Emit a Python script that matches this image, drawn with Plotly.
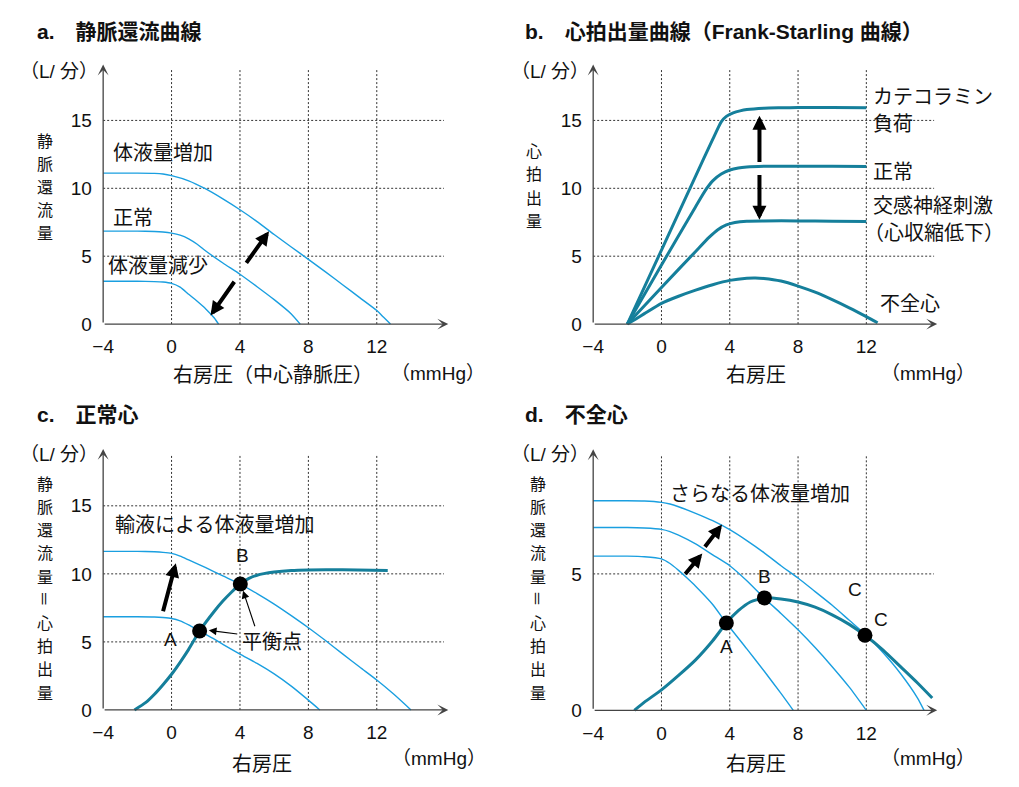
import plotly.graph_objects as go

W, H = 1019, 787
FONT_JP = "Noto Sans CJK JP, sans-serif"
FONT_MIX = "Liberation Sans, Noto Sans CJK JP, sans-serif"
VR_COLOR = "#1a9fe0"
CO_COLOR = "#157f9b"
AX_COLOR = "#444444"

# ---------------- data ----------------
x_tick_vals = [-4, 0, 4, 8, 12]
x_tick_text = ["−4", "0", "4", "8", "12"]
y_tick_vals_abc = [0, 5, 10, 15]
y_tick_vals_d = [0, 5]
grid_x = [0, 4, 8, 12]
grid_y_abc = [5, 10, 15]
grid_y_d = [5]

# a. venous return curves
a_inc_x = [-4, -2, -1, -0.5, 0, 1, 2, 3, 4, 5, 6, 7, 8, 9, 10, 11, 12, 12.4, 12.8]
a_inc_y = [11.12, 11.12, 11.1, 11.05, 10.93, 10.55, 9.95, 9.22, 8.42, 7.55, 6.6, 5.68, 4.77, 3.85, 2.9, 1.95, 1.0, 0.5, 0.0]
a_norm_x = [-4, -2, -1, -0.5, 0, 0.5, 1, 1.5, 2, 3, 4, 5, 6, 7, 7.52]
a_norm_y = [6.85, 6.85, 6.82, 6.78, 6.7, 6.55, 6.28, 5.88, 5.38, 4.5, 3.67, 2.75, 1.8, 0.75, 0.0]
a_dec_x = [-4, -2, -1, -0.5, 0, 0.5, 1, 1.5, 2, 2.5, 2.75]
a_dec_y = [3.15, 3.15, 3.13, 3.1, 3.0, 2.72, 2.2, 1.68, 1.12, 0.45, 0.0]

# b. cardiac output curves
b_cat_x = [-2, 0, 2, 3, 3.5, 3.8, 4.2, 4.6, 5, 6, 7, 8, 10, 12]
b_cat_y = [0, 5.45, 10.9, 13.6, 14.9, 15.3, 15.55, 15.7, 15.8, 15.9, 15.93, 15.95, 15.95, 15.93]
b_norm_x = [-2, 0, 2, 2.6, 3.0, 3.5, 4, 4.5, 5, 6, 7, 8, 10, 12]
b_norm_y = [0, 4.35, 8.65, 9.9, 10.55, 11.05, 11.35, 11.5, 11.57, 11.62, 11.63, 11.63, 11.62, 11.6]
b_sym_x = [-2, 0, 2, 2.8, 3.3, 3.8, 4.3, 5, 6, 8, 10, 12]
b_sym_y = [0, 2.7, 5.35, 6.4, 6.95, 7.3, 7.48, 7.58, 7.6, 7.6, 7.58, 7.55]
b_fail_x = [-2, -1.5, -1, 0, 1, 2, 3, 4, 5, 5.5, 6, 7, 8, 9, 10, 11, 12, 12.66]
b_fail_y = [0, 0.38, 0.77, 1.53, 2.05, 2.5, 2.9, 3.22, 3.38, 3.4, 3.36, 3.17, 2.8, 2.35, 1.8, 1.2, 0.55, 0.1]

# c. normal heart
c_co_x = [-2.17, -1.5, -1, -0.5, 0, 0.5, 1, 1.64, 2.5, 3, 3.5, 4.02, 4.5, 5, 6, 7, 8, 10, 12.64]
c_co_y = [0, 0.55, 1.15, 1.85, 2.62, 3.5, 4.45, 5.8, 7.25, 8.0, 8.65, 9.25, 9.65, 9.9, 10.13, 10.25, 10.29, 10.3, 10.25]
c_vr1_x = [-4, -2, -1, -0.5, 0, 0.5, 1, 1.64, 2.5, 3, 4, 5, 6, 7, 8, 8.67]
c_vr1_y = [6.85, 6.85, 6.83, 6.79, 6.72, 6.55, 6.25, 5.8, 5.2, 4.82, 4.1, 3.42, 2.65, 1.75, 0.72, 0.0]
c_vr2_x = [-4, -2, -1, -0.5, 0, 0.5, 1, 2, 3, 4.02, 5, 6, 7, 8, 9, 10, 11, 12, 13, 14]
c_vr2_y = [11.65, 11.65, 11.62, 11.58, 11.5, 11.3, 11.02, 10.45, 9.85, 9.25, 8.55, 7.78, 6.93, 6.04, 5.1, 4.12, 3.15, 2.2, 1.15, 0.0]
c_eq_x = [1.64, 4.02]
c_eq_y = [5.8, 9.25]

# d. failing heart
d_co_x = [-1.59, -1, 0, 1, 2, 3, 3.8, 4.5, 5.2, 6.03, 7, 8, 9, 10, 11, 11.92, 13, 14, 15, 15.86]
d_co_y = [0, 0.3, 0.75, 1.28, 1.85, 2.55, 3.2, 3.65, 3.97, 4.12, 4.08, 3.97, 3.78, 3.5, 3.15, 2.75, 2.2, 1.6, 1.0, 0.45]
d_vr1_x = [-4, -2, -1, 0, 0.5, 1, 1.5, 2, 3, 3.8, 5, 6, 7, 7.72]
d_vr1_y = [5.65, 5.65, 5.63, 5.55, 5.38, 5.13, 4.85, 4.55, 3.88, 3.2, 2.25, 1.45, 0.62, 0.0]
d_vr2_x = [-4, -2, -1, 0, 0.5, 1, 2, 3, 4, 5, 6.03, 7, 8, 9, 10, 11, 12]
d_vr2_y = [6.7, 6.7, 6.68, 6.63, 6.55, 6.42, 6.1, 5.7, 5.3, 4.75, 4.11, 3.55, 2.95, 2.3, 1.6, 0.85, 0.0]
d_vr3_x = [-4, -2, -1, 0, 0.5, 1, 2, 3, 4, 5, 6, 7, 8, 9, 10, 11, 12, 13, 14, 15, 15.38]
d_vr3_y = [7.68, 7.68, 7.67, 7.62, 7.56, 7.46, 7.22, 6.95, 6.62, 6.22, 5.78, 5.3, 4.85, 4.35, 3.85, 3.3, 2.75, 2.1, 1.35, 0.45, 0.0]
d_eq_x = [3.8, 6.03, 11.92]
d_eq_y = [3.2, 4.12, 2.75]

# ---------------- layout geometry (pixel mapping) ----------------
panels = {
    "a": dict(xa="x", ya="y", x0=165.7, sx=17.22, y0=327.0, sy=13.7,
              xr=[-4.25, 16.5], yr=[-0.25, 19.6], yt=y_tick_vals_abc, gy=grid_y_abc,
              ytop=19.12, gtop=18.71, gright=15.93, xend=16.18),
    "b": dict(xa="x2", ya="y2", x0=659.0, sx=17.19, y0=327.0, sy=13.7,
              xr=[-4.25, 16.5], yr=[-0.25, 19.6], yt=y_tick_vals_abc, gy=grid_y_abc,
              ytop=19.12, gtop=18.71, gright=15.97, xend=16.15),
    "c": dict(xa="x3", ya="y3", x0=165.7, sx=17.22, y0=716.3, sy=13.73,
              xr=[-4.25, 16.5], yr=[-0.25, 19.6], yt=y_tick_vals_abc, gy=grid_y_abc,
              ytop=19.18, gtop=18.7, gright=15.93, xend=16.18),
    "d": dict(xa="x4", ya="y4", x0=659.0, sx=17.19, y0=716.7, sy=27.53,
              xr=[-4.25, 16.5], yr=[-0.13, 9.8], yt=y_tick_vals_d, gy=grid_y_d,
              ytop=9.57, gtop=9.32, gright=15.96, xend=16.15),
}

fig = go.Figure()
layout = dict(width=W, height=H, margin=dict(l=0, r=0, t=0, b=0),
              paper_bgcolor="white", plot_bgcolor="rgba(0,0,0,0)",
              showlegend=False, font=dict(family=FONT_MIX, size=19, color="#111"))
shapes = []
annotations = []

for i, (key, p) in enumerate(panels.items()):
    n = "" if i == 0 else str(i + 1)
    xd = [(p["x0"] + p["sx"] * p["xr"][0]) / W, (p["x0"] + p["sx"] * p["xr"][1]) / W]
    yd = [1 - (p["y0"] - p["sy"] * p["yr"][0]) / H, 1 - (p["y0"] - p["sy"] * p["yr"][1]) / H]
    layout["xaxis" + n] = dict(domain=xd, range=p["xr"], anchor=p["ya"], tickvals=x_tick_vals,
                               ticktext=x_tick_text, showgrid=False, zeroline=False, showline=False,
                               ticks="", ticklabelstandoff=6, fixedrange=True,
                               tickfont=dict(family=FONT_MIX, size=19, color="#111"))
    layout["yaxis" + n] = dict(domain=yd, range=p["yr"], anchor=p["xa"], tickvals=p["yt"],
                               showgrid=False, zeroline=False, showline=False, ticks="",
                               ticklabelstandoff=6, fixedrange=True,
                               tickfont=dict(family=FONT_MIX, size=19, color="#111"))
    # dotted grid
    for gx in grid_x:
        shapes.append(dict(type="line", xref=p["xa"], yref=p["ya"], x0=gx, x1=gx, y0=0, y1=p["gtop"],
                           line=dict(color="#333", width=1, dash="2px,2px"), layer="below"))
    for gy in p["gy"]:
        shapes.append(dict(type="line", xref=p["xa"], yref=p["ya"], x0=-4, x1=p["gright"], y0=gy, y1=gy,
                           line=dict(color="#333", width=1, dash="2px,2px"), layer="below"))
    # axes with arrowheads
    annotations.append(dict(xref=p["xa"], yref=p["ya"], axref=p["xa"], ayref=p["ya"],
                            x=p["xend"], y=0, ax=-4, ay=0, text="", showarrow=True,
                            arrowhead=3, arrowsize=1.4, arrowwidth=1.3, arrowcolor=AX_COLOR))
    annotations.append(dict(xref=p["xa"], yref=p["ya"], axref=p["xa"], ayref=p["ya"],
                            x=-4, y=p["ytop"], ax=-4, ay=0, text="", showarrow=True,
                            arrowhead=3, arrowsize=1.4, arrowwidth=1.3, arrowcolor=AX_COLOR))


def line(x, y, xa, ya, color, width):
    fig.add_trace(go.Scatter(x=x, y=y, mode="lines", xaxis=xa, yaxis=ya, hoverinfo="skip",
                             line=dict(color=color, width=width, shape="spline", smoothing=0.6)))


def dots(x, y, xa, ya):
    fig.add_trace(go.Scatter(x=x, y=y, mode="markers", xaxis=xa, yaxis=ya, hoverinfo="skip",
                             marker=dict(color="black", size=15)))


def arrow(xa, ya, tail, head, width=4, size=0.7, head_style=2):
    annotations.append(dict(xref=xa, yref=ya, axref=xa, ayref=ya, x=head[0], y=head[1],
                            ax=tail[0], ay=tail[1], text="", showarrow=True, arrowhead=head_style,
                            arrowsize=size, arrowwidth=width, arrowcolor="black"))


def txt(xa, ya, x, y, s, anchor="left", size=20, family=FONT_JP):
    annotations.append(dict(xref=xa, yref=ya, x=x, y=y, text=s, showarrow=False, xanchor=anchor,
                            yanchor="middle", font=dict(family=family, size=size, color="#111")))


def ptxt(px, py, s, anchor="left", size=20, family=FONT_JP, bold=False, pad=1, angle=0):
    if bold:
        s = "<b>" + s + "</b>"
    annotations.append(dict(xref="paper", yref="paper", x=px / W, y=1 - py / H, text=s, showarrow=False,
                            xanchor=anchor, yanchor="middle", borderpad=pad, textangle=angle,
                            font=dict(family=family, size=size, color="#111")))


# ---- panel a ----
line(a_inc_x, a_inc_y, "x", "y", VR_COLOR, 1.4)
line(a_norm_x, a_norm_y, "x", "y", VR_COLOR, 1.4)
line(a_dec_x, a_dec_y, "x", "y", VR_COLOR, 1.4)
arrow("x", "y", (4.31, 4.40), (5.7, 6.84))
arrow("x", "y", (3.73, 3.23), (2.28, 0.63))
txt("x", "y", -3.55, 12.68, "体液量増加")
txt("x", "y", -3.55, 7.93, "正常")
txt("x", "y", -3.85, 4.40, "体液量減少")

# ---- panel b ----
for bx, by in [(b_cat_x, b_cat_y), (b_norm_x, b_norm_y), (b_sym_x, b_sym_y), (b_fail_x, b_fail_y)]:
    line(bx, by, "x2", "y2", CO_COLOR, 3)
arrow("x2", "y2", (5.74, 11.82), (5.74, 15.35))
arrow("x2", "y2", (5.74, 11.09), (5.74, 7.69))
txt("x2", "y2", 12.3, 16.81, "カテコラミン")
txt("x2", "y2", 12.3, 14.87, "負荷")
txt("x2", "y2", 12.3, 11.34, "正常")
txt("x2", "y2", 12.3, 8.78, "交感神経刺激")
txt("x2", "y2", 11.72, 6.84, "（心収縮低下）")
txt("x2", "y2", 12.66, 1.61, "不全心")

# ---- panel c ----
line(c_vr1_x, c_vr1_y, "x3", "y3", VR_COLOR, 1.4)
line(c_vr2_x, c_vr2_y, "x3", "y3", VR_COLOR, 1.4)
line(c_co_x, c_co_y, "x3", "y3", CO_COLOR, 3)
dots(c_eq_x, c_eq_y, "x3", "y3")
arrow("x3", "y3", (-0.52, 7.14), (0.25, 10.78))
arrow("x3", "y3", (3.93, 5.56), (2.18, 5.85), width=1.1, size=1.4)
arrow("x3", "y3", (4.9, 6.04), (4.18, 8.76), width=1.1, size=1.4)
txt("x3", "y3", -3.45, 13.69, "輸液による体液量増加")
txt("x3", "y3", -0.04, 5.19, "A", anchor="center", size=19, family=FONT_MIX)
txt("x3", "y3", 4.12, 11.33, "B", anchor="center", size=19, family=FONT_MIX)
txt("x3", "y3", 5.86, 5.07, "平衡点", anchor="center")

# ---- panel d ----
line(d_vr1_x, d_vr1_y, "x4", "y4", VR_COLOR, 1.4)
line(d_vr2_x, d_vr2_y, "x4", "y4", VR_COLOR, 1.4)
line(d_vr3_x, d_vr3_y, "x4", "y4", VR_COLOR, 1.4)
line(d_co_x, d_co_y, "x4", "y4", CO_COLOR, 3)
dots(d_eq_x, d_eq_y, "x4", "y4")
arrow("x4", "y4", (1.32, 4.94), (2.39, 5.75))
arrow("x4", "y4", (2.48, 5.94), (3.55, 6.81))
txt("x4", "y4", 5.76, 7.98, "さらなる体液量増加", anchor="center")
txt("x4", "y4", 3.81, 2.35, "A", anchor="center", size=19, family=FONT_MIX)
txt("x4", "y4", 6.04, 4.89, "B", anchor="center", size=19, family=FONT_MIX)
txt("x4", "y4", 11.32, 4.42, "C", anchor="center", size=19, family=FONT_MIX)
txt("x4", "y4", 12.86, 3.33, "C", anchor="center", size=19, family=FONT_MIX)

# ---- titles ----
ptxt(28, 31.7, "a.　静脈還流曲線", size=21, family=FONT_MIX, bold=True)
ptxt(520, 32, "b.　心拍出量曲線（Frank-Starling 曲線）", size=21, family=FONT_MIX, bold=True)
ptxt(28, 418.3, "c.　正常心", size=21, family=FONT_MIX, bold=True)
ptxt(520, 418.3, "d.　不全心", size=21, family=FONT_MIX, bold=True)

# ---- unit labels ----
for cx, cy in [(52.5, 71.7), (546.7, 71.7), (52.5, 459), (546.7, 459)]:
    ptxt(cx, cy, "（L/ 分）", anchor="center", size=19, family=FONT_MIX, pad=0)
for cx, cy in [(434, 376.7), (927.3, 376.7), (435, 765), (927.3, 765)]:
    ptxt(cx, cy, "（mmHg）", anchor="center", size=19, family=FONT_MIX)

# ---- x-axis titles ----
ptxt(165, 376.7, "右房圧（中心静脈圧）", anchor="left")
ptxt(754, 376.7, "右房圧", anchor="center")
ptxt(256.7, 769, "右房圧", anchor="center")
ptxt(754.3, 769, "右房圧", anchor="center")

# ---- vertical y-axis titles (one character per text, stacked; "＝" turned as in vertical writing) ----
V_SIZE = 16
V_STEP = 23.4


def vstack(cx, cy_center, chars):
    top = cy_center - V_STEP * (len(chars) - 1) / 2
    for k, ch in enumerate(chars):
        ptxt(cx, top + k * V_STEP, ch, anchor="center", size=V_SIZE, pad=0,
             angle=90 if ch == "＝" else 0)


vstack(38.3, 187.6, "静脈還流量")
vstack(531, 186.7, "心拍出量")
vstack(38.3, 592.5, "静脈還流量＝心拍出量")
vstack(535, 592.5, "静脈還流量＝心拍出量")

layout["shapes"] = shapes
layout["annotations"] = annotations
fig.update_layout(**layout)
fig.write_html("out.html", config={"displayModeBar": False},
               post_script="document.body.style.margin='0px';document.body.style.overflow='hidden';")
